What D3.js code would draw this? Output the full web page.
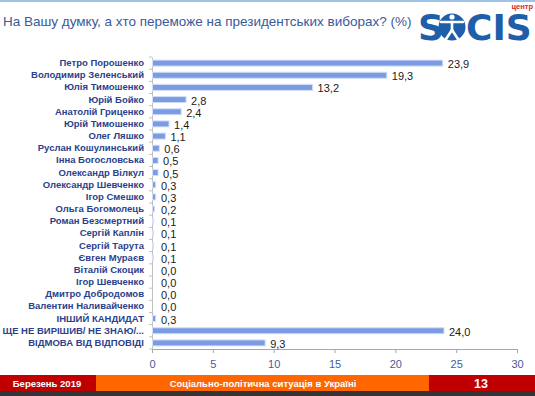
<!DOCTYPE html>
<html>
<head>
  <meta charset="utf-8">
  <script src="https://d3js.org/d3.v7.min.js"></script>
  <style>
    body { margin: 0; background: #fff; }
    svg { display: block; font-family: "Liberation Sans", Arial, sans-serif; }
    .axis--x path, .axis--x line { stroke: #a6a6a6; }
    .axis--x text { fill: #4a5a9c; font-size: 11px; }
    .axis--y path, .axis--y line { stroke: #c0c0c0; }
    .axis--y text { fill: #2b3f8c; font-size: 9.5px; font-weight: bold; }
  </style>
</head>
<body>
  <svg width="535" height="396"></svg>
  <script>
    // data
    var names = ["Петро Порошенко", "Володимир Зеленський", "Юлія Тимошенко", "Юрій Бойко",
      "Анатолій Гриценко", "Юрій Тимошенко", "Олег Ляшко", "Руслан Кошулинський",
      "Інна Богословська", "Олександр Вілкул", "Олександр Шевченко", "Ігор Смешко",
      "Ольга Богомолець", "Роман Безсмертний", "Сергій Каплін", "Сергій Тарута",
      "Євген Мураєв", "Віталій Скоцик", "Ігор Шевченко", "Дмитро Добродомов",
      "Валентин Наливайченко", "ІНШИЙ КАНДИДАТ", "ЩЕ НЕ ВИРІШИВ/ НЕ ЗНАЮ/...", "ВІДМОВА ВІД ВІДПОВІДІ"];
    var values = [23.9, 19.3, 13.2, 2.8, 2.4, 1.4, 1.1, 0.6, 0.5, 0.5, 0.3, 0.3,
      0.2, 0.1, 0.1, 0.1, 0.1, 0.0, 0.0, 0.0, 0.0, 0.3, 24.0, 9.3];
    var xTicks = [0, 5, 10, 15, 20, 25, 30];

    var data = names.map(function(n, i) { return {name: n, value: values[i]}; });

    var svg = d3.select("svg");

    // top thin line
    svg.append("rect").attr("x", 0).attr("y", 0).attr("width", 535).attr("height", 2).attr("fill", "#9dc3e6");

    svg.append("text")
      .attr("x", 3).attr("y", 26)
      .attr("fill", "#3a5a9a")
      .style("font-size", "13.5px")
      .text("На Вашу думку, а хто переможе на президентських виборах? (%)");

    // logo
    var logo = svg.append("g").attr("fill", "#1f5faa").style("font-weight", "bold");
    logo.append("text").attr("x", 418).attr("y", 40).style("font-size", "36px")
      .style("font-family", "'DejaVu Sans', sans-serif").text("S");
    logo.append("circle").attr("cx", 452).attr("cy", 27).attr("r", 13.5);
    var man = logo.append("g").attr("stroke", "#fff").attr("stroke-width", 2.6).attr("stroke-linecap", "round").attr("fill", "none");
    man.append("line").attr("x1", 441).attr("y1", 22).attr("x2", 463).attr("y2", 22);
    man.append("line").attr("x1", 452).attr("y1", 22).attr("x2", 452).attr("y2", 31);
    man.append("line").attr("x1", 452).attr("y1", 30).attr("x2", 446).attr("y2", 39);
    man.append("line").attr("x1", 452).attr("y1", 30).attr("x2", 458).attr("y2", 39);
    logo.append("circle").attr("cx", 452).attr("cy", 17).attr("r", 2.6).attr("fill", "#fff");
    logo.append("text").attr("x", 466).attr("y", 40).style("font-size", "36px")
      .style("font-family", "'DejaVu Sans', sans-serif").text("CIS");
    svg.append("text").attr("x", 533).attr("y", 9).attr("text-anchor", "end")
      .attr("fill", "#d9232a").style("font-size", "7.5px").style("font-weight", "bold").text("центр");

    var margin = {top: 57, left: 152},
      width = 365, height = 292;

    var x = d3.scaleLinear().domain([0, 30]).range([0, width]),
      y = d3.scaleBand().domain(names).range([0, height]);

    var g = svg.append("g")
      .attr("transform", "translate(" + margin.left + "," + margin.top + ")");

    g.append("g")
      .attr("class", "axis axis--x")
      .attr("transform", "translate(0," + height + ")")
      .call(d3.axisBottom(x).tickValues(xTicks).tickSize(4).tickSizeOuter(0))
      .selectAll("text").attr("dy", "1.05em");

    g.append("g")
      .attr("class", "axis axis--y")
      .call(d3.axisLeft(y).tickSize(0).tickPadding(8));
    // small separators between categories
    g.append("g").selectAll("line")
      .data(d3.range(names.length + 1))
      .enter().append("line")
      .attr("x1", -3).attr("x2", 0)
      .attr("y1", function(i) { return i * y.step(); })
      .attr("y2", function(i) { return i * y.step(); })
      .attr("stroke", "#c0c0c0");

    g.selectAll(".bar")
      .data(data)
      .enter().append("rect")
      .attr("class", "bar")
      .attr("x", 0.5)
      .attr("y", function(d) { return y(d.name) + y.bandwidth() / 2 - 3; })
      .attr("width", function(d) { return Math.max(0, x(d.value) - 0.5); })
      .attr("height", 6)
      .attr("fill", "#7b9be3")
      .attr("stroke", "#d4def6")
      .attr("stroke-width", 1);

    g.selectAll(".val")
      .data(data)
      .enter().append("text")
      .attr("class", "val")
      .attr("x", function(d) { return Math.max(x(d.value), 4) + 5; })
      .attr("y", function(d) { return y(d.name) + y.bandwidth() / 2 + 5; })
      .attr("fill", "#1a1a1a")
      .style("font-size", "11px")
      .text(function(d) { return d.value.toFixed(1).replace(".", ","); });

    // footer
    var foot = svg.append("g").style("font-weight", "bold").attr("fill", "#fff");
    foot.append("rect").attr("x", 0).attr("y", 375).attr("width", 535).attr("height", 16).attr("fill", "#c00000");
    foot.append("rect").attr("x", 96).attr("y", 375).attr("width", 333).attr("height", 16).attr("fill", "#ff6600");
    foot.append("rect").attr("x", 0).attr("y", 391).attr("width", 535).attr("height", 5).attr("fill", "#333333");
    foot.append("text").attr("x", 47).attr("y", 386.5).attr("text-anchor", "middle").style("font-size", "9.5px").text("Березень 2019");
    foot.append("text").attr("x", 263).attr("y", 386.5).attr("text-anchor", "middle").style("font-size", "9.5px").text("Соціально-політична ситуація в Україні");
    foot.append("text").attr("x", 481).attr("y", 388).attr("text-anchor", "middle").style("font-size", "12.5px").text("13");
  </script>
</body>
</html>
